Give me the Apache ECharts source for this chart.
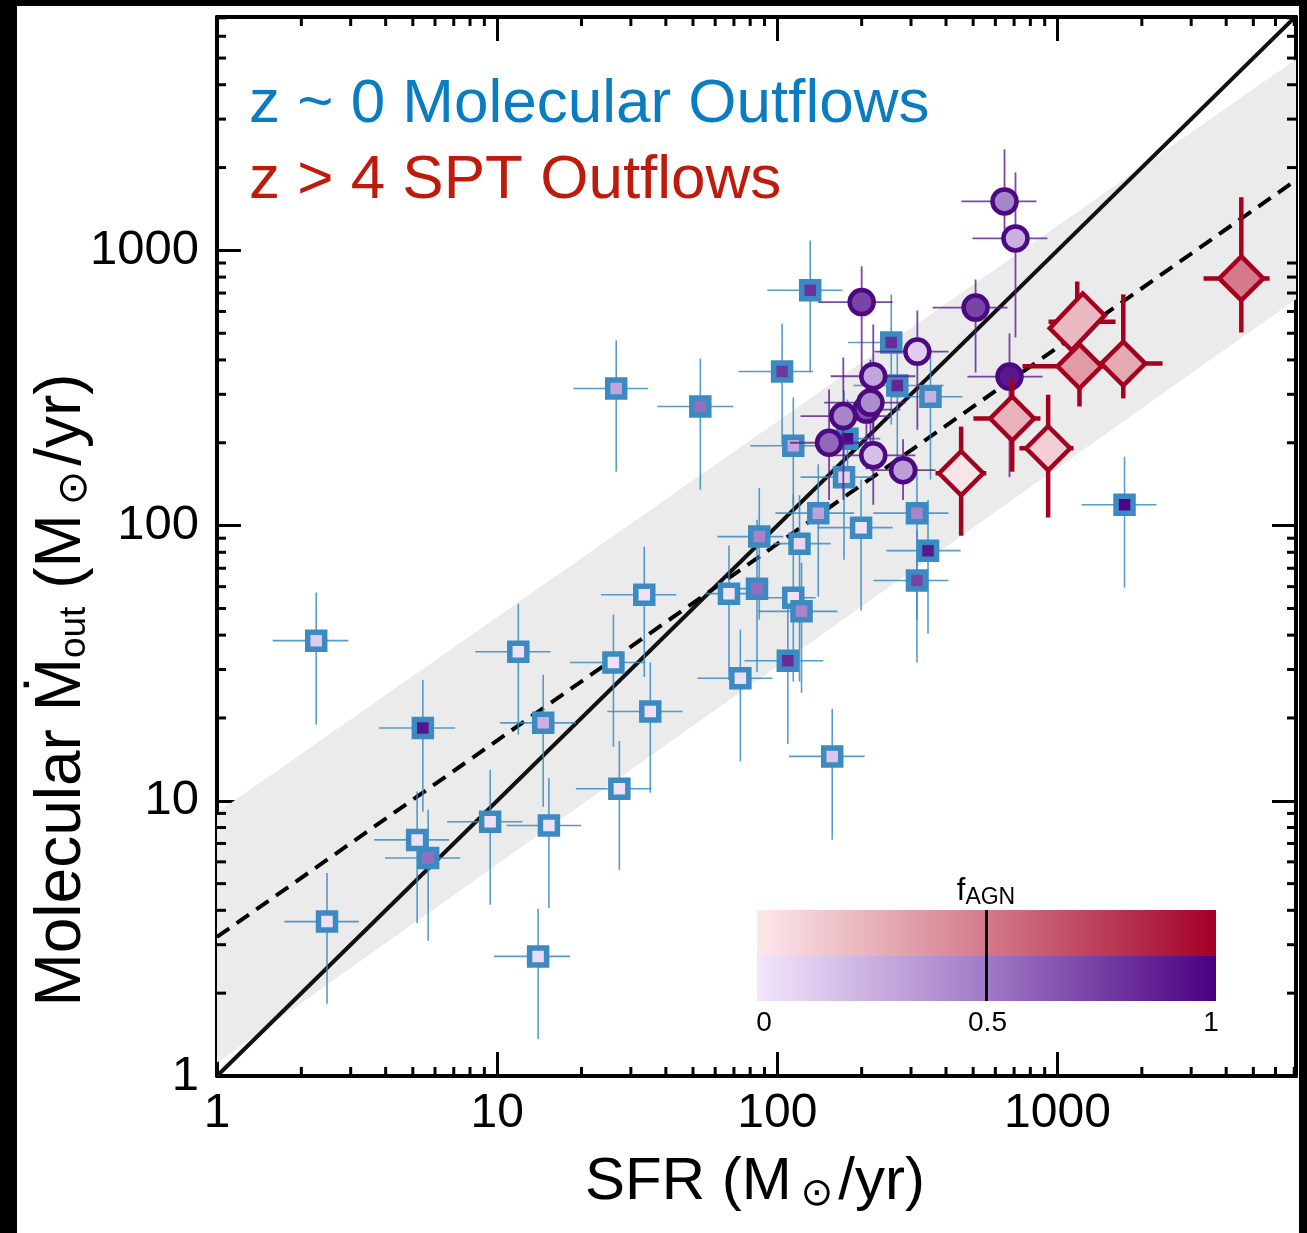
<!DOCTYPE html>
<html><head><meta charset="utf-8">
<script src="https://cdn.jsdelivr.net/npm/echarts@6/dist/echarts.min.js"></script>
<style>html,body{margin:0;padding:0;background:#fff}#c{width:1307px;height:1233px}</style>
</head><body><div id="c"></div>
<script>
// ---------- data ----------
// z ~ 0 molecular outflows (squares)
const sqSFR    = [2.26, 5.43, 11.9, 14.6, 9.44, 15.3, 5.18, 5.67, 2.47, 14.0, 26.6, 53.1, 131, 104, 114, 178, 173, 140, 86.2, 120, 199, 315, 345, 315, 352, 255, 268, 67.2, 84.6, 114, 122, 33.5, 26.0, 35.2, 27.3, 73.8, 109, 157, 1735];
const sqSFRlo  = [1.58, 3.79, 8.35, 10.25, 6.63, 10.8, 3.64, 3.98, 1.74, 9.75, 18.7, 37.3, 92.1, 72.6, 80.1, 137, 121, 98.4, 61.1, 96.8, 139, 220, 245, 220, 253, 179, 187, 55.3, 61.1, 86.9, 85.5, 23.5, 18.2, 24.7, 19.1, 51.8, 76.3, 110, 1218];
const sqSFRhi  = [2.94, 7.08, 15.5, 19.1, 12.3, 19.95, 6.74, 7.38, 3.21, 18.2, 34.6, 69.6, 171, 134, 155, 233, 220, 188, 105, 155, 258, 408, 451, 408, 458, 279, 392, 78.1, 92.1, 137, 164, 43.6, 33.8, 45.8, 35.5, 96.0, 146, 205, 2258];
const sqMout   = [38.2, 18.4, 34.8, 19.2, 8.39, 8.13, 7.21, 6.20, 3.64, 2.72, 315, 271, 717, 363, 195, 207, 150, 111, 91.2, 86.0, 98.3, 111, 81.1, 63.2, 294, 463, 323, 56.6, 59.0, 54.7, 48.8, 56.1, 31.8, 21.1, 11.06, 27.9, 32.3, 14.5, 119];
const sqMoutLo = [18.9, 9.12, 17.4, 9.51, 4.19, 4.08, 3.60, 3.10, 1.83, 1.36, 157, 135, 361, 197, 119, 147, 75.2, 55.2, 45.5, 27.1, 49.1, 45.5, 40.5, 31.8, 147, 233, 164, 27.5, 29.4, 27.1, 24.7, 28.2, 15.7, 10.7, 5.61, 13.9, 16.1, 7.22, 59.5];
const sqMoutHi = [57.1, 27.5, 52.0, 28.7, 12.96, 12.1, 10.8, 9.28, 5.47, 4.05, 471, 405, 1087, 543, 292, 287, 310, 167, 137, 129, 147, 165, 124, 96.7, 412, 692, 448, 84.6, 105, 130, 73.3, 83.9, 47.5, 31.8, 16.5, 41.9, 53.8, 21.6, 178];
const sqFagn   = [0.12, 0.92, 0.03, 0.25, 0.03, 0.03, 0.03, 0.55, 0.03, 0.05, 0.3, 0.55, 0.8, 0.78, 0.3, 0.97, 0.1, 0.32, 0.45, 0.07, 0.02, 0.45, 0.9, 0.72, 0.25, 0.82, 0.85, 0.02, 0.55, 0.02, 0.45, 0.03, 0.03, 0.03, 0.03, 0.03, 0.82, 0.15, 0.98];

// z ~ 0 (circles)
const ciSFR    = [647, 708, 510, 674, 200, 316, 220, 208, 215, 172, 153, 220, 281];
const ciSFRlo  = [454, 497, 358, 477, 140, 222, 155, 155, 147, 121, 111, 155, 215];
const ciSFRhi  = [841, 921, 663, 884, 258, 408, 311, 275, 287, 253, 215, 311, 367];
const ciMout   = [1507, 1106, 620, 348, 649, 429, 349, 264, 280, 250, 200, 180, 159];
const ciMoutLo = [1192, 483, 360, 150, 326, 223, 223, 160, 174, 124, 124, 119, 124];
const ciMoutHi = [2330, 1921, 784, 499, 875, 605, 538, 369, 401, 408, 312, 243, 206];
const ciFagn   = [0.45, 0.25, 0.72, 0.9, 0.72, 0.12, 0.3, 0.7, 0.42, 0.45, 0.58, 0.18, 0.33];

// z > 4 SPT outflows (diamonds); the second one is the elongated (blended) marker
const dmSFR    = [4529, 1176, 1198, 1717, 689, 926, 453];
const dmSFRlo  = [3321, 929, 750, 1259, 501, 731, 367];
const dmSFRhi  = [5716, 1611, 1546, 2371, 869, 1140, 557];
const dmMout   = [791, 550, 379, 388, 245, 191, 155];
const dmMoutLo = [503, 437, 271, 290, 157, 107, 91.9];
const dmMoutHi = [1559, 771, 475, 692, 339, 299, 229];
const dmFagn   = [0.5, 0.22, 0.35, 0.28, 0.25, 0.12, 0.02];
const dmBlended = [false, true, false, false, false, false, false];

// relations
const oneToOneX = [1, 7100];
const oneToOneY = [1, 7100];
const fitX = [1, 7100];
const fitY = [3.2, 1800];
const bandX = [1, 7100];
const bandLow = [1.12, 664];
const bandHigh = [9.04, 4955];

// axes
const xMin = 1, xMax = 7100, yMin = 1, yMax = 7050;
const xTickLabels = ['1', '10', '100', '1000'];
const yTickLabels = ['1', '10', '100', '1000'];
const xMinorTicks = [2,3,4,5,6,7,8,9,20,30,40,50,60,70,80,90,200,300,400,500,600,700,800,900,2000,3000,4000,5000,6000,7000];
const yMinorTicks = [2,3,4,5,6,7,8,9,20,30,40,50,60,70,80,90,200,300,400,500,600,700,800,900,2000,3000,4000,5000,6000,7000];
const cbarTickLabels = ['0', '0.5', '1'];
const cbarTickValues = [0, 0.5, 1];

// colour scales for f_AGN
const purpleStops = [[0, [243, 230, 252]], [0.5, [160, 122, 198]], [1, [74, 0, 128]]];
const redStops = [[0, [253, 232, 236]], [0.5, [212, 122, 138]], [1, [163, 0, 38]]];

// ---------- helpers ----------
function interp(stops, t) {
  t = Math.max(0, Math.min(1, t));
  for (let i = 0; i < stops.length - 1; i++) {
    const [t0, c0] = stops[i], [t1, c1] = stops[i + 1];
    if (t <= t1) {
      const f = (t - t0) / (t1 - t0);
      const c = c0.map((v, k) => Math.round(v + (c1[k] - v) * f));
      return 'rgb(' + c.join(',') + ')';
    }
  }
  return 'rgb(' + stops[stops.length - 1][1].join(',') + ')';
}
function gradStops(stops) {
  return stops.map(s => ({ offset: s[0], color: 'rgb(' + s[1].join(',') + ')' }));
}
function pts(xs, ys, f, stops) {
  return xs.map((x, i) => ({ value: [x, ys[i]], itemStyle: { color: interp(stops, f[i]) } }));
}
function errData(xs, xl, xh, ys, yl, yh) {
  return xs.map((x, i) => [x, ys[i], xl[i], xh[i], yl[i], yh[i]]);
}
function errRender(color, width, opacity) {
  return function (params, api) {
    const x = api.value(0), y = api.value(1);
    const pl = api.coord([api.value(2), y]), ph = api.coord([api.value(3), y]);
    const pb = api.coord([x, api.value(4)]), pt = api.coord([x, api.value(5)]);
    const st = { stroke: color, lineWidth: width, opacity: opacity };
    return { type: 'group', children: [
      { type: 'line', shape: { x1: pl[0], y1: pl[1], x2: ph[0], y2: ph[1] }, style: st },
      { type: 'line', shape: { x1: pb[0], y1: pb[1], x2: pt[0], y2: pt[1] }, style: st }
    ] };
  };
}
function labelFmt(list) {
  return function (v) {
    const r = Math.round(v);
    return (Math.abs(v - r) < 1e-6 * Math.max(1, r) && list.indexOf(String(r)) >= 0) ? String(r) : '';
  };
}

const ffam = '"Liberation Sans", Arial, Helvetica, sans-serif';
const symFam = '"DejaVu Sans", sans-serif';
const sqBorder = '#3b8bc2', ciBorder = '#4b0a82', dmBorder = '#a5001e';
const blendedPath = 'path://M0,38 L36,0 L60,24 L24,62 Z';

const chart = echarts.init(document.getElementById('c'), null, { renderer: 'canvas' });

const axisCommon = {
  type: 'log', logBase: 10, splitNumber: 4,
  axisLine: { show: true, onZero: false, lineStyle: { color: '#000', width: 4 } },
  axisTick: { show: true, inside: true, length: 24, lineStyle: { color: '#000', width: 3 } },
  splitLine: { show: false }, minorTick: { show: false }, minorSplitLine: { show: false }
};

const dmPoints = pts(dmSFR, dmMout, dmFagn, redStops).map((p, i) => {
  if (dmBlended[i]) { p.symbol = blendedPath; p.symbolSize = [55, 57]; }
  return p;
});

const option = {
  animation: false,
  backgroundColor: '#fff',
  grid: { left: 217, top: 17, right: 11, bottom: 157, containLabel: false, outerBoundsMode: 'none' },
  xAxis: [
    Object.assign({}, axisCommon, { position: 'bottom', min: xMin, max: xMax,
      axisLabel: { show: true, margin: 14, fontSize: 48, color: '#000', fontFamily: ffam, formatter: labelFmt(xTickLabels), showMaxLabel: false } }),
    Object.assign({}, axisCommon, { position: 'top', min: xMin, max: xMax, axisLabel: { show: false } })
  ],
  yAxis: [
    Object.assign({}, axisCommon, { position: 'left', min: yMin, max: yMax,
      axisLabel: { show: true, margin: 18, fontSize: 49, color: '#000', fontFamily: ffam, formatter: labelFmt(yTickLabels), showMaxLabel: false } }),
    Object.assign({}, axisCommon, { position: 'right', min: yMin, max: yMax, axisLabel: { show: false } })
  ],
  series: [
    { // scatter band
      type: 'custom', z: 1, silent: true, clip: true,
      encode: { x: 0, y: 1 }, data: [[bandX[0], bandLow[0]]],
      renderItem: function (params, api) {
        const p = [];
        for (let i = 0; i < bandX.length; i++) p.push(api.coord([bandX[i], bandHigh[i]]));
        for (let i = bandX.length - 1; i >= 0; i--) p.push(api.coord([bandX[i], bandLow[i]]));
        return { type: 'polygon', shape: { points: p }, style: { fill: '#ebebeb' } };
      }
    },
    { type: 'line', z: 2, silent: true, clip: true, showSymbol: false, symbol: 'none',
      data: oneToOneX.map((x, i) => [x, oneToOneY[i]]),
      lineStyle: { color: '#111', width: 4 } },
    { type: 'line', z: 2, silent: true, clip: true, showSymbol: false, symbol: 'none',
      data: fitX.map((x, i) => [x, fitY[i]]),
      lineStyle: { color: '#000', width: 4, type: [15, 9] } },
    { type: 'custom', z: 3, silent: true, clip: true, encode: { x: 0, y: 1 },
      data: errData(sqSFR, sqSFRlo, sqSFRhi, sqMout, sqMoutLo, sqMoutHi),
      renderItem: errRender(sqBorder, 1.6, 0.85) },
    { type: 'scatter', z: 4, silent: true, symbol: 'rect', symbolSize: 17,
      itemStyle: { borderColor: sqBorder, borderWidth: 5.5, opacity: 1 },
      data: pts(sqSFR, sqMout, sqFagn, purpleStops) },
    { type: 'custom', z: 5, silent: true, clip: true, encode: { x: 0, y: 1 },
      data: errData(ciSFR, ciSFRlo, ciSFRhi, ciMout, ciMoutLo, ciMoutHi),
      renderItem: errRender('#5a1a8e', 1.8, 0.8) },
    { type: 'scatter', z: 6, silent: true, symbol: 'circle', symbolSize: 24,
      itemStyle: { borderColor: ciBorder, borderWidth: 4.5, opacity: 1 },
      data: pts(ciSFR, ciMout, ciFagn, purpleStops) },
    { type: 'custom', z: 7, silent: true, clip: true, encode: { x: 0, y: 1 },
      data: errData(dmSFR, dmSFRlo, dmSFRhi, dmMout, dmMoutLo, dmMoutHi),
      renderItem: errRender(dmBorder, 4.5, 1) },
    { type: 'scatter', z: 8, silent: true, symbol: 'diamond', symbolSize: 44,
      itemStyle: { borderColor: dmBorder, borderWidth: 4.5, opacity: 1 },
      data: dmPoints },
    { // minor ticks on x (bottom + top)
      type: 'custom', z: 9, silent: true, clip: false, encode: { x: 0, y: 1 },
      data: xMinorTicks.map(v => [v, yMin]),
      renderItem: function (params, api) {
        const cs = params.coordSys; const p = api.coord([api.value(0), api.value(1)]);
        const st = { stroke: '#000', lineWidth: 3 };
        return { type: 'group', children: [
          { type: 'line', shape: { x1: p[0], y1: cs.y + cs.height, x2: p[0], y2: cs.y + cs.height - 9 }, style: st },
          { type: 'line', shape: { x1: p[0], y1: cs.y, x2: p[0], y2: cs.y + 9 }, style: st }
        ] };
      }
    },
    { // minor ticks on y (left + right)
      type: 'custom', z: 9, silent: true, clip: false, encode: { x: 0, y: 1 },
      data: yMinorTicks.map(v => [xMin, v]),
      renderItem: function (params, api) {
        const cs = params.coordSys; const p = api.coord([api.value(0), api.value(1)]);
        const st = { stroke: '#000', lineWidth: 3 };
        return { type: 'group', children: [
          { type: 'line', shape: { x1: cs.x, y1: p[1], x2: cs.x + 9, y2: p[1] }, style: st },
          { type: 'line', shape: { x1: cs.x + cs.width, y1: p[1], x2: cs.x + cs.width - 9, y2: p[1] }, style: st }
        ] };
      }
    }
  ],
  graphic: [
    // outer black frame of the picture
    { type: 'rect', z: 100, shape: { x: 0, y: 0, width: 17, height: 1233 }, style: { fill: '#000' } },
    { type: 'rect', z: 100, shape: { x: 0, y: 0, width: 1307, height: 6 }, style: { fill: '#000' } },
    { type: 'rect', z: 100, shape: { x: 1299, y: 0, width: 8, height: 1233 }, style: { fill: '#000' } },
    // legend texts
    { type: 'text', z: 100, x: 249, y: 105, style: { text: 'z ~ 0 Molecular Outflows', fontSize: 62, fontFamily: ffam, fill: '#0a7cc1', align: 'left', verticalAlign: 'middle' } },
    { type: 'text', z: 100, x: 249, y: 181, style: { text: 'z > 4 SPT Outflows', fontSize: 62, fontFamily: ffam, fill: '#bf1b0c', align: 'left', verticalAlign: 'middle' } },
    // colour bar
    { type: 'rect', z: 100, shape: { x: 757, y: 910, width: 459, height: 46 },
      style: { fill: { type: 'linear', x: 0, y: 0, x2: 1, y2: 0, colorStops: gradStops(redStops) } } },
    { type: 'rect', z: 100, shape: { x: 757, y: 956, width: 459, height: 45 },
      style: { fill: { type: 'linear', x: 0, y: 0, x2: 1, y2: 0, colorStops: gradStops(purpleStops) } } },
    { type: 'line', z: 101, shape: { x1: 757 + 459 * 0.5, y1: 910, x2: 757 + 459 * 0.5, y2: 1001 }, style: { stroke: '#000', lineWidth: 3 } },
    { type: 'text', z: 101, x: 986, y: 891, style: { text: '{f|f}{s|AGN}', rich: { f: { fontSize: 31, fontFamily: ffam, fill: '#000' }, s: { fontSize: 23, fontFamily: ffam, fill: '#000', padding: [14, 0, 0, 0] } }, align: 'center', verticalAlign: 'middle' } }
  ].concat(cbarTickValues.map((v, i) => ({
    type: 'text', z: 101, x: 764 + (1211 - 764) * v, y: 1023,
    style: { text: cbarTickLabels[i], fontSize: 28, fontFamily: ffam, fill: '#000', align: 'center', verticalAlign: 'middle' }
  }))).concat([
    // axis titles
    { type: 'text', z: 101, x: 755, y: 1182,
      style: { text: '{a|SFR (M}{s|\u2299}{a|/yr)}', align: 'center', verticalAlign: 'middle',
        rich: { a: { fontSize: 60, fontFamily: ffam, fill: '#000', lineHeight: 68 },
                s: { fontSize: 39, fontFamily: symFam, fill: '#000', lineHeight: 40, padding: [25, 5, 0, 9] } } } },
    { type: 'text', z: 101, x: 62, y: 690, rotation: Math.PI / 2,
      style: { text: '{a|Molecular \u1E40}{b|out}{a| (M}{s|\u2299}{a|/yr)}', align: 'center', verticalAlign: 'middle',
        rich: { a: { fontSize: 64, fontFamily: ffam, fill: '#000', lineHeight: 72 },
                b: { fontSize: 37, fontFamily: ffam, fill: '#000', lineHeight: 40, padding: [26, 0, 0, 0] },
                s: { fontSize: 41, fontFamily: symFam, fill: '#000', lineHeight: 42, padding: [27, 5, 0, 9] } } } }
  ])
};
chart.setOption(option);
</script>
</body></html>
